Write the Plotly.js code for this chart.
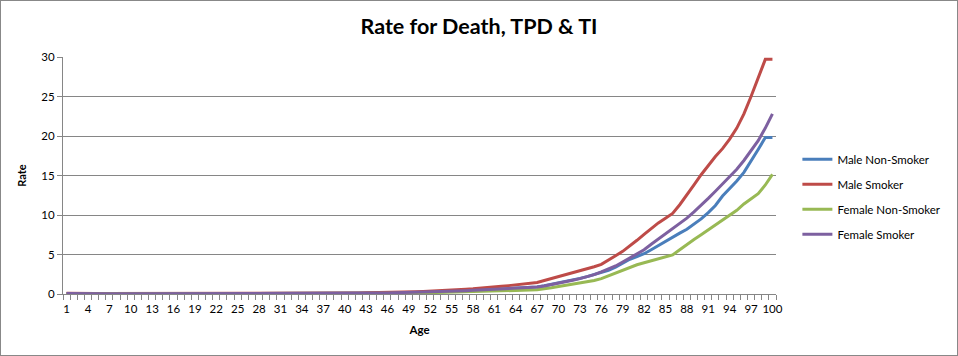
<!DOCTYPE html>
<html>
<head>
<meta charset="utf-8">
<script src="https://cdn.plot.ly/plotly-3.0.1.min.js"></script>
<style>
html,body{margin:0;padding:0;background:#fff;}
#wrap{position:relative;width:958px;height:356px;}
#chart{width:958px;height:356px;}
#border{position:absolute;left:0;top:0;width:956px;height:354px;border:1px solid #888;pointer-events:none;}
</style>
</head>
<body>
<div id="wrap"><div id="chart"></div><div id="border"></div></div>
<script>
const ages = [];
for (let a = 1; a <= 100; a++) ages.push(a);

const maleNonSmoker = [
0.06,0.04,0.03,0.03,0.03,0.03,0.03,0.03,0.03,0.03,
0.03,0.03,0.03,0.04,0.04,0.05,0.05,0.05,0.05,0.05,
0.05,0.05,0.05,0.05,0.05,0.05,0.05,0.05,0.05,0.05,
0.05,0.05,0.05,0.06,0.06,0.06,0.06,0.07,0.07,0.07,
0.08,0.08,0.09,0.09,0.10,0.11,0.12,0.14,0.16,0.18,
0.20,0.22,0.25,0.28,0.31,0.35,0.39,0.43,0.48,0.53,
0.58,0.64,0.70,0.77,0.82,0.86,0.90,1.05,1.22,1.40,
1.58,1.78,1.98,2.20,2.45,2.70,3.00,3.40,3.90,4.40,
4.75,5.10,5.60,6.15,6.70,7.20,7.70,8.20,8.80,9.50,
10.30,11.20,12.40,13.30,14.30,15.40,16.80,18.30,19.80,19.80];

const maleSmoker = [
0.08,0.05,0.05,0.05,0.05,0.05,0.05,0.05,0.05,0.05,
0.05,0.05,0.05,0.06,0.06,0.07,0.07,0.07,0.07,0.07,
0.07,0.07,0.07,0.07,0.07,0.07,0.07,0.07,0.07,0.07,
0.07,0.08,0.08,0.08,0.09,0.09,0.10,0.10,0.11,0.12,
0.13,0.14,0.15,0.16,0.18,0.20,0.22,0.25,0.27,0.30,
0.33,0.36,0.40,0.45,0.50,0.55,0.60,0.66,0.72,0.80,
0.90,0.98,1.06,1.14,1.22,1.36,1.45,1.70,1.95,2.20,
2.45,2.75,2.95,3.15,3.45,3.75,4.25,4.85,5.40,6.05,
6.80,7.55,8.30,9.00,9.60,10.20,11.30,12.50,13.80,15.10,
16.30,17.40,18.40,19.60,21.00,22.80,25.00,27.40,29.70,29.70];

const femaleNonSmoker = [
0.04,0.03,0.02,0.02,0.02,0.02,0.02,0.02,0.02,0.02,
0.02,0.02,0.02,0.02,0.02,0.03,0.03,0.03,0.03,0.03,
0.03,0.03,0.03,0.03,0.03,0.03,0.03,0.03,0.03,0.03,
0.03,0.03,0.03,0.04,0.04,0.04,0.04,0.04,0.05,0.05,
0.05,0.05,0.06,0.06,0.07,0.08,0.09,0.10,0.11,0.12,
0.14,0.16,0.18,0.20,0.22,0.24,0.26,0.27,0.29,0.30,
0.32,0.35,0.38,0.42,0.46,0.50,0.55,0.65,0.80,0.95,
1.10,1.22,1.35,1.50,1.70,1.95,2.30,2.70,3.05,3.40,
3.70,3.95,4.20,4.45,4.70,4.95,5.60,6.30,6.90,7.50,
8.10,8.70,9.30,9.90,10.60,11.40,12.00,12.70,13.80,15.15];

const femaleSmoker = [
0.06,0.04,0.03,0.03,0.03,0.03,0.03,0.03,0.03,0.03,
0.03,0.03,0.03,0.04,0.04,0.04,0.04,0.05,0.05,0.05,
0.05,0.05,0.05,0.05,0.05,0.05,0.05,0.05,0.05,0.05,
0.05,0.05,0.06,0.06,0.06,0.06,0.07,0.07,0.07,0.08,
0.08,0.09,0.10,0.11,0.12,0.13,0.15,0.17,0.19,0.21,
0.23,0.25,0.28,0.31,0.34,0.38,0.42,0.46,0.50,0.55,
0.60,0.66,0.72,0.78,0.82,0.85,0.88,1.02,1.18,1.36,
1.55,1.75,1.95,2.18,2.45,2.80,3.15,3.55,4.05,4.60,
5.10,5.60,6.30,6.95,7.60,8.25,8.90,9.60,10.40,11.20,
12.10,13.00,13.90,14.80,15.80,16.90,18.10,19.40,21.00,22.80];

const seriesNames = ["Male Non-Smoker","Male Smoker","Female Non-Smoker","Female Smoker"];
const seriesData = [maleNonSmoker, maleSmoker, femaleNonSmoker, femaleSmoker];
const seriesColors = ["#4A7EBB","#BE4B48","#98B954","#7D60A0"];

const traces = seriesData.map((d,i)=>({
  x: ages, y: d, type:'scatter', mode:'lines', name: seriesNames[i],
  legendgroup: 'g'+i,
  line:{color: seriesColors[i], width:3}
}));

const tickVals = [];
for (let a = 1; a <= 100; a += 3) tickVals.push(a);

const layout = {
  width:958, height:356,
  margin:{l:63, r:179, t:57, b:62},
  paper_bgcolor:'#fff', plot_bgcolor:'#fff',
  font:{family:'Lato, "DejaVu Sans", sans-serif', size:12, color:'#000'},
  title:{text:'<b>Rate for Death, TPD &amp; TI</b>', x:0.5, xanchor:'center', y:0.925, yanchor:'middle',
         font:{family:'Lato, sans-serif', size:21.5, color:'#000'}},
  xaxis:{
    range:[0.5,100.5], tickvals: tickVals, ticktext: tickVals.map(String),
    ticks:'', showgrid:false, zeroline:false,
    showline:true, linecolor:'#868686', linewidth:1,
    tickfont:{size:11.5}, ticklabelstandoff:4,
    minor:{ticks:'outside', tick0:0.5, dtick:1, ticklen:5, tickcolor:'#868686', showgrid:false},
    title:{text:'<b>Age</b>', font:{size:11.5}, standoff:12}
  },
  yaxis:{
    range:[0,30], dtick:5, ticks:'outside', ticklen:5, tickcolor:'#868686',
    showgrid:true, gridcolor:'#868686', gridwidth:1, zeroline:false,
    showline:true, linecolor:'#868686', linewidth:1,
    tickfont:{size:11.5},
    title:{text:'<b>Rate</b>', font:{size:11}, standoff:12}
  },
  showlegend:true,
  legend:{x:1.03, xanchor:'left', y:0.63, yanchor:'top', traceorder:'grouped', tracegroupgap:6,
          font:{size:11.5}, itemwidth:30, bgcolor:'rgba(0,0,0,0)'}
};

Plotly.newPlot('chart', traces, layout, {displayModeBar:false, staticPlot:true});
</script>
</body>
</html>
